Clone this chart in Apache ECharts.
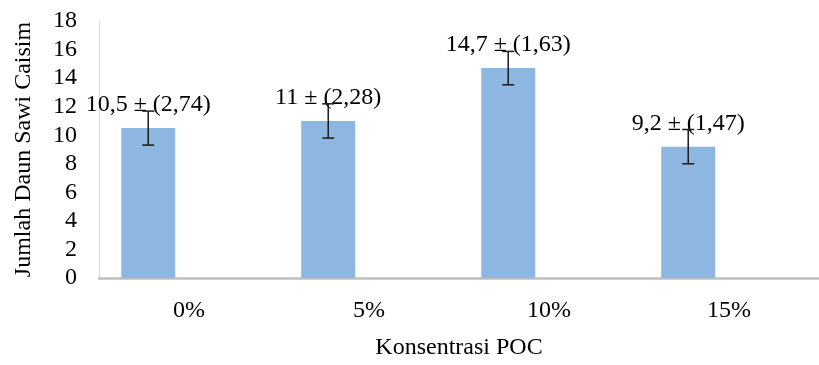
<!DOCTYPE html>
<html>
<head>
<meta charset="utf-8">
<script src="https://cdn.jsdelivr.net/npm/echarts@6/dist/echarts.min.js"></script>
<style>html,body{margin:0;padding:0;background:#fff;}#c{width:819px;height:365px;}</style>
</head>
<body>
<div id="c"></div>
<script>
var categories = ['0%', '5%', '10%', '15%'];
var means = [10.5, 11, 14.7, 9.2];
var sdLabels = [2.74, 2.28, 1.63, 1.47];
var errorBars = [1.19, 1.2, 1.17, 1.2];
var yTicks = {min: 0, max: 18, interval: 2};

var FONT = "'Liberation Serif', 'Times New Roman', serif";
function fmt(v) { return String(v).replace('.', ','); }
var labels = means.map(function (m, i) { return fmt(m) + ' \u00b1 (' + fmt(sdLabels[i]) + ')'; });

var BAR_FRAC = 0.3, GAP = 0.51;
var chart = echarts.init(document.getElementById('c'), null, {renderer: 'canvas'});
chart.setOption({
  animation: false,
  grid: {left: 99, top: 21, height: 265, width: 732, containLabel: false},
  xAxis: {
    type: 'category', data: categories,
    axisLine: {lineStyle: {color: '#BFBFBF', width: 2.5}},
    axisTick: {show: false},
    axisLabel: {fontFamily: FONT, fontSize: 24, color: '#000', margin: 21},
    name: 'Konsentrasi POC', nameLocation: 'middle', nameGap: 58,
    nameTextStyle: {fontFamily: FONT, fontSize: 24, color: '#000'}
  },
  yAxis: {
    type: 'value', min: yTicks.min, max: yTicks.max, interval: yTicks.interval,
    axisLine: {show: true, lineStyle: {color: '#D9D9D9', width: 1}},
    axisTick: {show: false},
    splitLine: {show: false},
    axisLabel: {fontFamily: FONT, fontSize: 24, color: '#000', margin: 22},
    name: 'Jumlah Daun Sawi Caisim', nameLocation: 'middle', nameGap: 63,
    nameTextStyle: {fontFamily: FONT, fontSize: 24, color: '#000'}
  },
  series: [
    {
      type: 'bar', data: means, barWidth: (BAR_FRAC * 100) + '%', barGap: (GAP * 100) + '%',
      itemStyle: {color: '#8DB7E1'},
      label: {
        show: true, position: 'top', distance: 11,
        formatter: function (p) { return labels[p.dataIndex]; },
        fontFamily: FONT, fontSize: 24, lineHeight: 24, color: '#000'
      },
      z: 2
    },
    {type: 'bar', data: means.map(function () { return null; }), barWidth: (BAR_FRAC * 100) + '%'},
    {
      type: 'custom', z: 5,
      data: means.map(function (m, i) { return [i, m, errorBars[i]]; }),
      renderItem: function (params, api) {
        var i = api.value(0), m = api.value(1), e = api.value(2);
        var band = api.size([1, 0])[0];
        var off = -band * (BAR_FRAC + BAR_FRAC * GAP) / 2;
        var hi = api.coord([i, m + e]), lo = api.coord([i, m - e]);
        var x = hi[0] + off;
        var cap = 6;
        var st = {stroke: '#1a1a1a', lineWidth: 1.5};
        return {type: 'group', children: [
          {type: 'line', shape: {x1: x, y1: hi[1], x2: x, y2: lo[1]}, style: st},
          {type: 'line', shape: {x1: x - cap, y1: hi[1], x2: x + cap, y2: hi[1]}, style: st},
          {type: 'line', shape: {x1: x - cap, y1: lo[1], x2: x + cap, y2: lo[1]}, style: st}
        ]};
      }
    }
  ]
});
</script>
</body>
</html>
